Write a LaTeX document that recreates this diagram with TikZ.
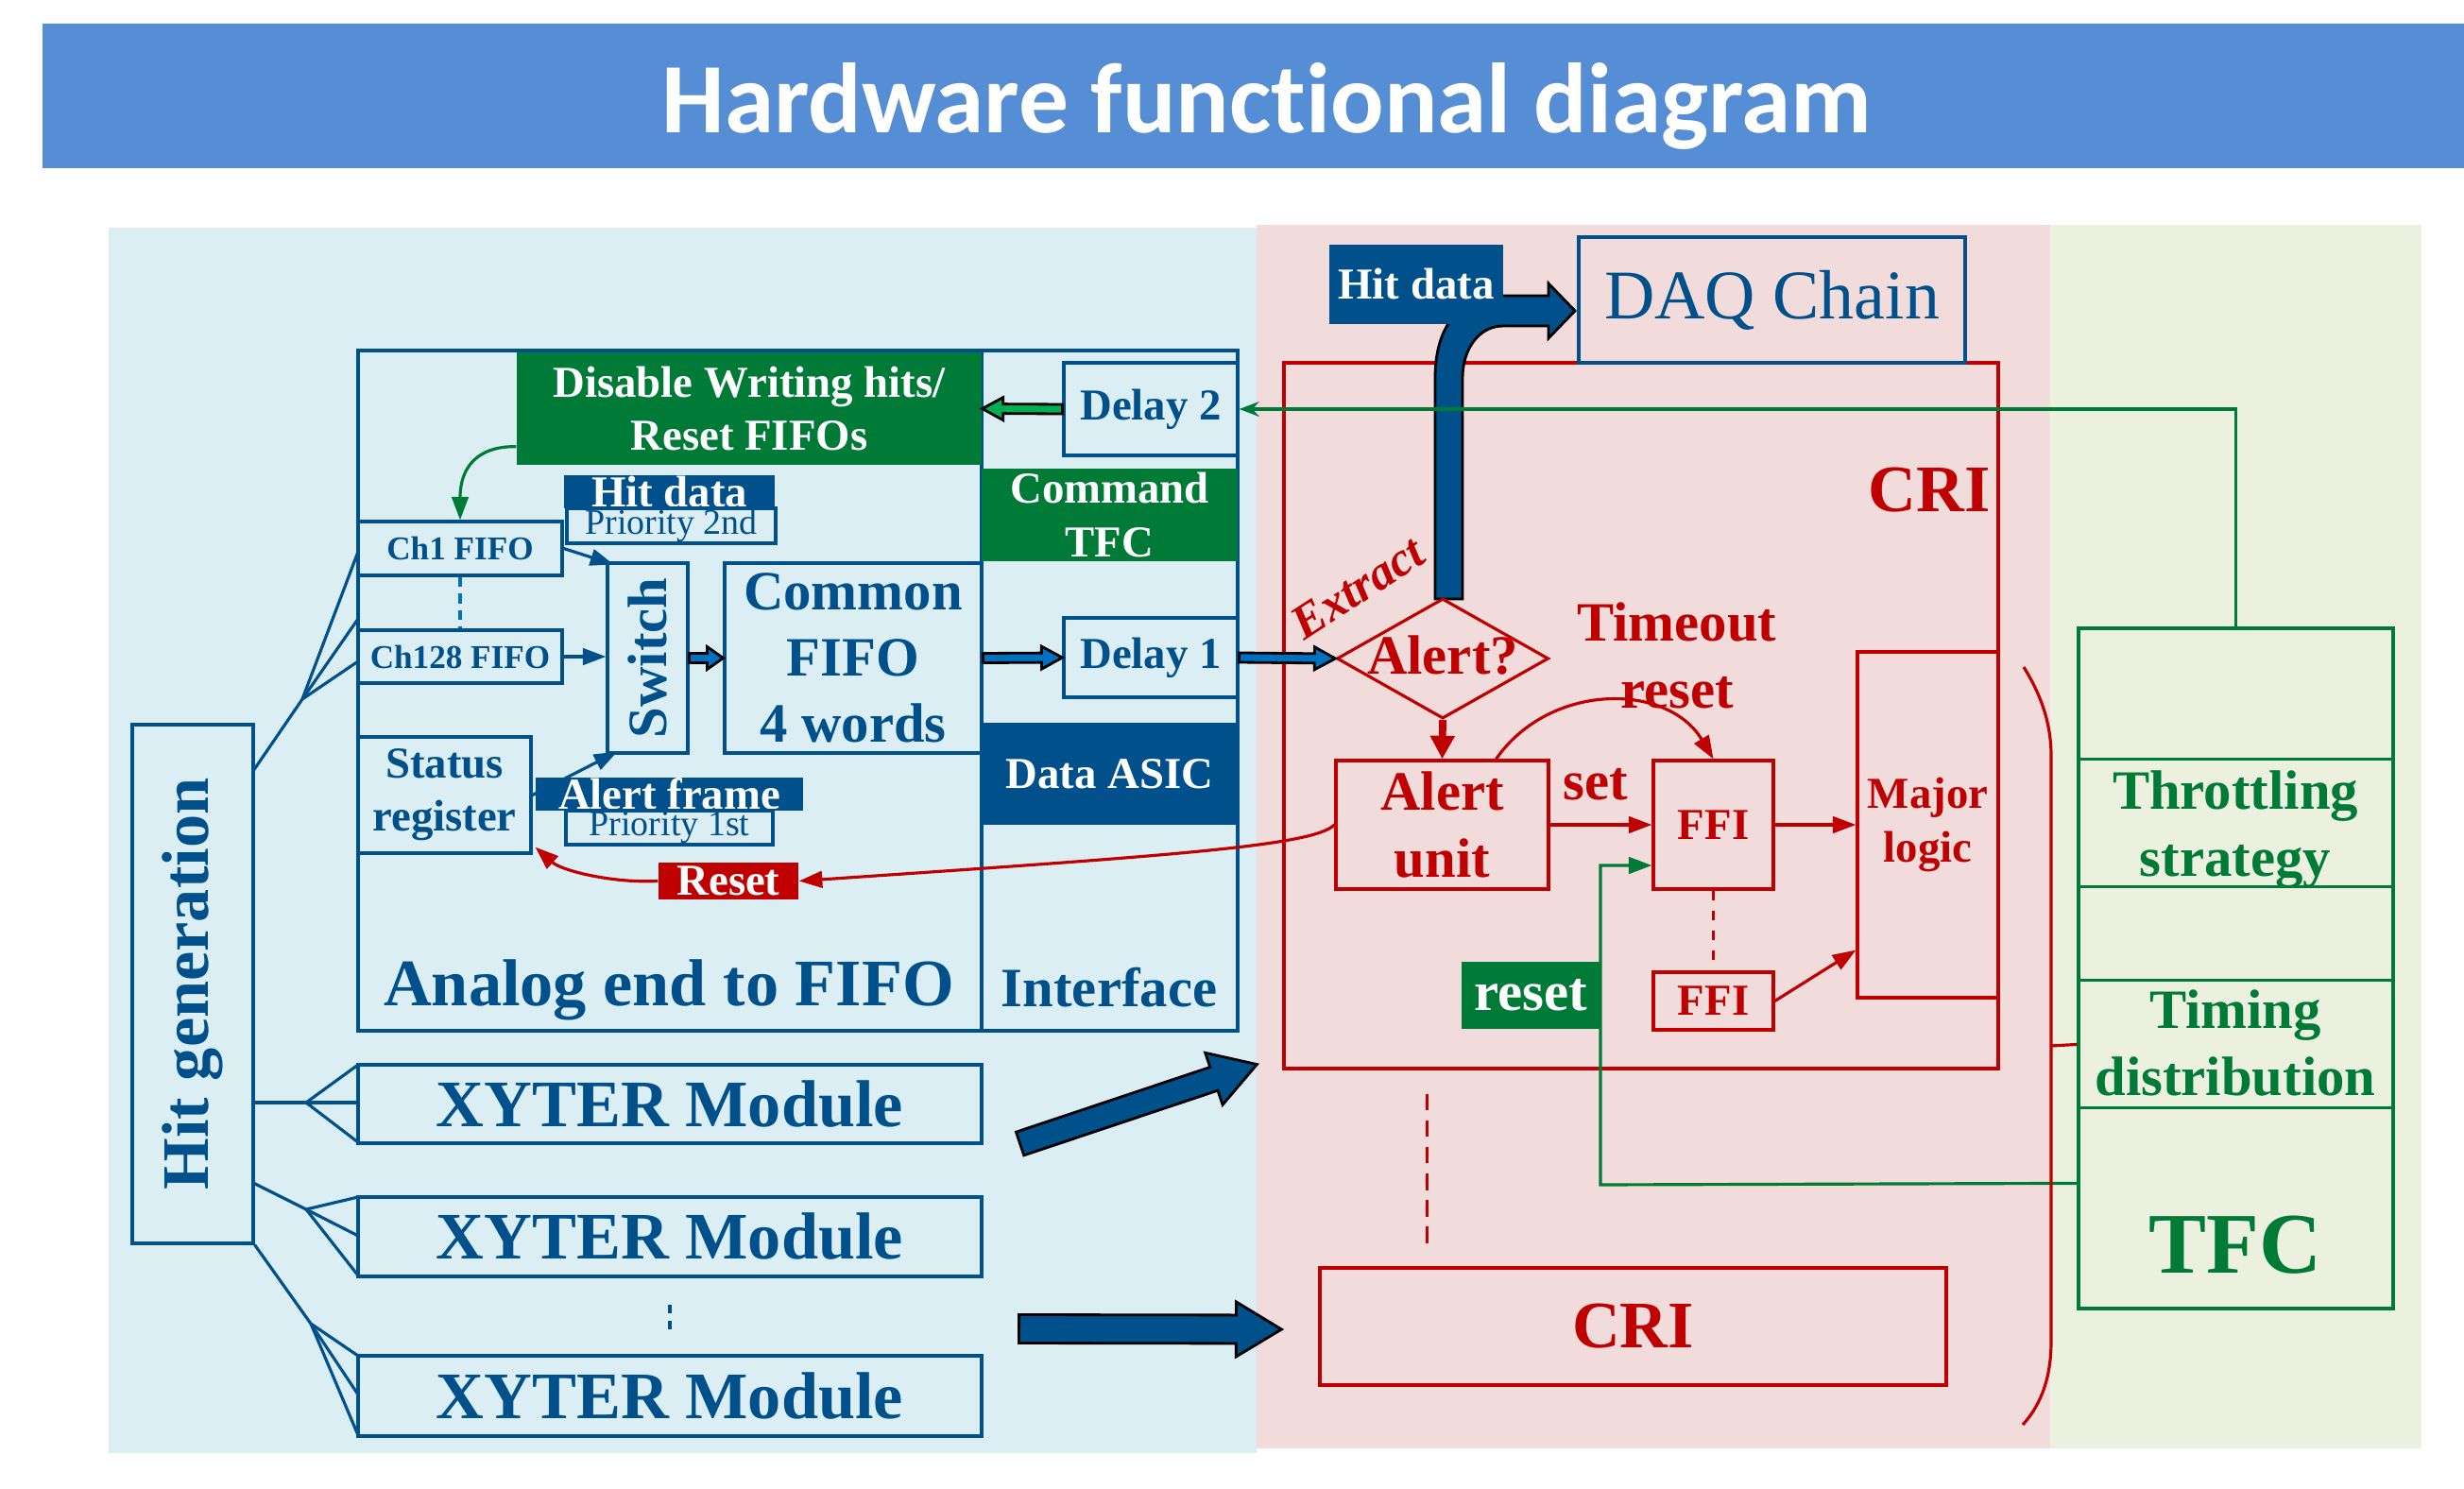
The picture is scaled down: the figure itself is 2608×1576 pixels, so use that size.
\documentclass[tikz,border=0pt]{standalone}
\usepackage{fontspec}
\setmainfont{Liberation Serif}
\newfontfamily\titlefont[Ligatures={NoCommon,NoContextual,NoRare}]{Carlito}
\usetikzlibrary{arrows.meta,calc,fit,shapes.geometric}

\definecolor{dblue}{HTML}{00508C}
\definecolor{mblue}{HTML}{0070C0}
\definecolor{bgblue}{HTML}{DAEEF3}
\definecolor{bgpink}{HTML}{F2DCDB}
\definecolor{bggreen}{HTML}{EBF1DE}
\definecolor{titleblue}{HTML}{558ED5}
\definecolor{dgreen}{HTML}{007A37}
\definecolor{lgreen}{HTML}{00B050}
\definecolor{dred}{HTML}{C00000}

\newcommand\szA{\fontsize{10pt}{12pt}\selectfont\bfseries}
\newcommand\szP{\fontsize{10.8pt}{13pt}\selectfont}
\newcommand\szB{\fontsize{13.3pt}{16pt}\selectfont\bfseries}
\newcommand\szC{\fontsize{16.7pt}{20pt}\selectfont\bfseries}
\newcommand\szD{\fontsize{20pt}{24pt}\selectfont\bfseries}

\newcommand\FatArrow[6]{%
  \coordinate (fa-s) at #2;
  \coordinate (fa-e) at #3;
  \coordinate (fa-n) at ($(fa-e)!#6!(fa-s)$);
  \filldraw[fill=#1, draw=black, line width=0.8pt, line join=miter]
    ($(fa-s)!#4!90:(fa-e)$) -- ($(fa-n)!#4!-90:(fa-s)$) -- ($(fa-n)!#5!-90:(fa-s)$)
    -- (fa-e) -- ($(fa-n)!#5!90:(fa-s)$) -- ($(fa-n)!#4!90:(fa-s)$)
    -- ($(fa-s)!#4!-90:(fa-e)$) -- cycle;
}

\tikzset{
  bbox/.style={inner sep=0pt, draw=dblue, line width=0.9pt},
  rbox/.style={inner sep=0pt, draw=dred, line width=0.9pt},
  gbox/.style={inner sep=0pt, draw=dgreen, line width=0.9pt},
  fillbox/.style={inner sep=0pt},
  lbl/.style={inner sep=0pt, align=center},
  bthin/.style={draw=dblue, line width=0.9pt},
  rthin/.style={draw=dred, line width=0.9pt},
  gthin/.style={draw=dgreen, line width=0.9pt},
  tri/.style={-{Triangle[length=7pt,width=5pt]}},
}

\begin{document}
\begin{tikzpicture}[x=0.01cm, y=-0.01cm]
\useasboundingbox (0,0) rectangle (2608,1576);
\fill[white] (0,0) rectangle (2608,1576);

% title
\fill[titleblue] (45,25) rectangle (2608,178);
\node[anchor=base, inner sep=0, text=white, font=\titlefont\fontsize{30pt}{36pt}\selectfont\bfseries] (title) at (1341,141) {Hardware functional diagram};

% panels
\fill[bgblue] (115,241) rectangle (1330,1538);
\fill[bgpink] (1330,238) rectangle (2170,1533);
\fill[bggreen] (2170,238) rectangle (2563,1533);

% hit generation
\node[bbox, fit={(140,767) (268,1316)}] (hitgen) {};
\node[lbl, text=dblue, font=\szD, rotate=90] (hitgent) at (hitgen.center) {Hit generation};

\coordinate (ap0) at (320,740);
\coordinate (ap1) at (324,1167);
\coordinate (ap2) at (324,1280);
\coordinate (ap3) at (329,1401);
\draw[bthin] (268,816) -- (ap0);
\draw[bthin] (ap0) -- (379,584);
\draw[bthin] (ap0) -- (379,655);
\draw[bthin] (ap0) -- (379,700);
\draw[bthin] (268,1167) -- (ap1);
\draw[bthin] (ap1) -- (379,1127);
\draw[bthin] (ap1) -- (379,1167);
\draw[bthin] (ap1) -- (379,1209);
\draw[bthin] (268,1252) -- (ap2);
\draw[bthin] (ap2) -- (379,1267);
\draw[bthin] (ap2) -- (379,1308);
\draw[bthin] (ap2) -- (379,1350);
\draw[bthin] (hitgen.south east) -- (ap3);
\draw[bthin] (ap3) -- (379,1435);
\draw[bthin] (ap3) -- (379,1476);
\draw[bthin] (ap3) -- (379,1519);

% main block
\node[bbox, fit={(379,371) (1039,1091)}] (analog) {};
\node[bbox, fit={(1039,371) (1310,1091)}] (iface) {};
\node[lbl, text=dblue, font=\szD, anchor=base] (analogt) at (708,1064) {Analog end to FIFO};
\node[lbl, text=dblue, font=\szC, anchor=base] (ifacet) at (1174,1065) {Interface};

\node[fillbox, fill=dgreen, fit={(547,373) (1039,492)}] (disable) {};
\node[lbl, text=white, font=\szB] (disablet) at (disable.center) {Disable Writing hits/\\Reset FIFOs};
\node[bbox, fill=bgblue, fit={(1126,384) (1310,482)}] (delay2) {};
\node[lbl, text=dblue, font=\szB] (delay2t) at (delay2.center) {Delay 2};
\node[fillbox, fill=dgreen, fit={(1039,496) (1310,594)}] (cmd) {};
\node[lbl, text=white, font=\szB] (cmdt) at (cmd.center) {Command\\TFC};
\node[bbox, fill=bgblue, fit={(1126,654) (1310,738)}] (delay1) {};
\node[lbl, text=dblue, font=\szB] (delay1t) at (delay1.center) {Delay 1};
\node[fillbox, fill=dblue, fit={(1039,765) (1310,873)}] (asic) {};
\node[lbl, text=white, font=\szB] (asict) at (asic.center) {Data ASIC};

\node[bbox, fit={(379,552) (595,609)}] (ch1) {};
\node[lbl, text=dblue, font=\szA] (ch1t) at (ch1.center) {Ch1 FIFO};
\node[bbox, fit={(379,667) (595,723)}] (ch128) {};
\node[lbl, text=dblue, font=\szA] (ch128t) at (ch128.center) {Ch128 FIFO};
\node[bbox, fit={(643,596) (728,797)}] (switch) {};
\node[lbl, text=dblue, font=\szC, rotate=90] (switcht) at (switch.center) {Switch};
\node[bbox, fit={(767,596) (1039,797)}] (common) {};
\node[lbl, text=dblue, font=\szC] (commont) at (common.center) {Common\\FIFO\\4 words};
\node[bbox, fit={(379,780) (562,903)}] (status) {};
\node[lbl, text=dblue, font=\szB] (statust) at (status.center) {Status\\register};

\draw[mblue, line width=1.2pt, dash pattern=on 3pt off 2pt] (ch1.south) -- (ch128.north);
\draw[bthin, tri] (ch1.east) -- ($(switch.north west)+(8,3)$);
\draw[bthin, tri] (ch128.east) -- (ch128.east -| switch.west);
\draw[bthin, tri] (status.east) -- ($(switch.south west)+(12,-3)$);

\node[fillbox, fill=dblue, fit={(597,503) (820,538)}] (hitd) {};
\node[lbl, text=white, font=\szB] (hitdt) at (hitd.center) {Hit data};
\node[bbox, fill=bgblue, fit={(600,538) (821,575)}] (prio2) {};
\node[lbl, text=dblue, font=\szP] (prio2t) at (prio2.center) {Priority 2nd};
\node[fillbox, fill=dblue, fit={(567,823) (850,858)}] (alertf) {};
\node[lbl, text=white, font=\szB] (alertft) at (alertf.center) {Alert frame};
\node[bbox, fill=bgblue, fit={(599,858) (818,894)}] (prio1) {};
\node[lbl, text=dblue, font=\szP] (prio1t) at (prio1.center) {Priority 1st};
\node[fillbox, fill=dred, fit={(697,913) (845,952)}] (resetl) {};
\node[lbl, text=white, font=\szB] (resetlt) at (resetl.center) {Reset};

\draw[gthin, tri] ($(disable.south west)+(0,-20)$) .. controls (505,472) and (487,495) .. (ch1.north);

% modules
\node[bbox, fit={(379,1127) (1039,1210)}] (m1) {};
\node[lbl, text=dblue, font=\szD] (m1t) at (m1.center) {XYTER Module};
\node[bbox, fit={(379,1267) (1039,1351)}] (m2) {};
\node[lbl, text=dblue, font=\szD] (m2t) at (m2.center) {XYTER Module};
\node[bbox, fit={(379,1435) (1039,1520)}] (m3) {};
\node[lbl, text=dblue, font=\szD] (m3t) at (m3.center) {XYTER Module};
\draw[dblue, line width=1.2pt, dash pattern=on 2.5pt off 2.5pt] ($(m2.south)!0.35!(m3.north)$) -- ($(m2.south)!0.68!(m3.north)$);

% CRI
\node[rbox, fit={(1359,384) (2115,1131)}] (cri) {};
\node[lbl, text=dred, font=\szD] (crit) at (2042,519) {CRI};

\filldraw[fill=dblue, draw=black, line width=0.8pt, line join=miter]
  (1519,634) -- (1519,400) .. controls (1519,345) and (1545,313) .. (1591,313)
  -- (1639,313) -- (1639,300) -- (1667,329) -- (1639,358) -- (1639,345) -- (1591,345)
  .. controls (1565,345) and (1548,370) .. (1548,400) -- (1548,634) -- cycle;

\node[bbox, fill=bgpink, fit={(1671,251) (2080,384)}] (daq) {};
\node[lbl, text=dblue, font=\fontsize{21pt}{25pt}\selectfont] (daqt) at (daq.center) {DAQ Chain};
\node[fillbox, fill=dblue, fit={(1407,259) (1591,343)}] (hitd2) {};
\node[lbl, text=white, font=\szB] (hitd2t) at (hitd2.center) {Hit data};

\node[diamond, draw=dred, line width=0.9pt, minimum width=2.24cm, minimum height=1.27cm, inner sep=0pt] (alert) at (1527,697) {};
\node[lbl, text=dred, font=\szC] (alertt) at (1527,694) {Alert?};
\node[lbl, text=dred, font=\fontsize{14.5pt}{17pt}\selectfont\bfseries\itshape, rotate=33] (extract) at (1437,622) {Extract};

\node[rbox, fit={(1414,805) (1639,941)}] (aunit) {};
\node[lbl, text=dred, font=\szC] (aunitt) at (aunit.center) {Alert\\unit};
\node[rbox, fit={(1750,805) (1877,941)}] (ffi1) {};
\node[lbl, text=dred, font=\szB] (ffi1t) at (ffi1.center) {FFI};
\node[rbox, fit={(1750,1029) (1877,1090)}] (ffi2) {};
\node[lbl, text=dred, font=\szB] (ffi2t) at (ffi2.center) {FFI};
\node[rbox, fit={(1966,690) (2115,1056)}] (major) {};
\node[lbl, text=dred, font=\szB] (majort) at (major.center) {Major\\logic};
\node[fillbox, fill=dgreen, fit={(1547,1018) (1694,1089)}] (resetg) {};
\node[lbl, text=white, font=\szC] (resetgt) at (resetg.center) {reset};
\node[lbl, text=dred, font=\szC] (timeout) at (1775,694) {Timeout\\reset};
\node[lbl, text=dred, font=\szC] (setl) at (1689,830) {set};

\draw[dred, line width=2.2pt, -{Triangle[length=7pt,width=7pt]}] (alert.south) -- (aunit.north);
\draw[rthin, tri] (aunit.east) -- (ffi1.west);
\draw[rthin, tri] ($(aunit.north)+(57,0)$) .. controls (1640,722) and (1765,722) .. (ffi1.north);
\draw[rthin, tri] (ffi1.east) -- (ffi1.east -| major.west);
\draw[rthin, tri] (ffi2.east) -- ($(major.south west)+(0,-52)$);
\draw[rthin, dashed] (ffi1.south) -- (ffi2.north);

\draw[rthin, tri] (aunit.west) .. controls (1390,895) and (1250,905) .. (resetl.east);
\draw[rthin, tri] (resetl.west) .. controls (650,935) and (595,922) .. ($(status.south east)+(3,-8)$);

% second CRI
\node[rbox, fit={(1397,1342) (2060,1466)}] (cri2) {};
\node[lbl, text=dred, font=\szD] (cri2t) at (cri2.center) {CRI};
\draw[rthin, dash pattern=on 5pt off 3pt] ($(cri.south west)+(153,25)$) -- ($(cri2.north west)+(115,-20)$);

% TFC
\node[gbox, fit={(2200,665) (2533,1385)}] (tfc) {};
\draw[gthin] ($(tfc.north west)+(0,140)$) -- ($(tfc.north east)+(0,140)$);
\draw[gthin] ($(tfc.north west)+(0,275)$) -- ($(tfc.north east)+(0,275)$);
\draw[gthin] ($(tfc.north west)+(0,374)$) -- ($(tfc.north east)+(0,374)$);
\draw[gthin] ($(tfc.north west)+(0,509)$) -- ($(tfc.north east)+(0,509)$);
\node[lbl, text=dgreen, font=\szC] (throt) at (2366,878) {Throttling\\strategy};
\node[lbl, text=dgreen, font=\szC] (timing) at (2366,1104) {Timing\\distribution};
\node[lbl, text=dgreen, font=\fontsize{26pt}{30pt}\selectfont\bfseries] (tfct) at (2366,1318) {TFC};

\draw[gthin, -{Stealth[length=6pt,width=4.5pt]}] (tfc.north) |- (delay2.east);
\draw[gthin, tri] ($(tfc.north west)+(0,589)$) -- (1694,1254) -- (1694,916) -- ($(ffi1.west)+(0,43)$);

% bracket
\draw[rthin] (2142,706) .. controls (2160,735) and (2171,765) .. (2171,800) -- (2171,1420) .. controls (2171,1455) and (2162,1485) .. (2141,1508);
\draw[rthin] (2171,1107) -- ($(tfc.north west)+(0,442)$);

% fat arrows
\FatArrow{mblue}{(switch.east)}{(common.west)}{0.05cm}{0.12cm}{0.17cm}
\FatArrow{mblue}{(common.east)}{(delay1.west)}{0.05cm}{0.12cm}{0.22cm}
\FatArrow{mblue}{(delay1.east)}{(alert.west)}{0.05cm}{0.12cm}{0.22cm}
\FatArrow{lgreen}{(delay2.west)}{(disable.east)}{0.05cm}{0.12cm}{0.22cm}
\FatArrow{dblue}{($(m1.east)+(39,42)$)}{($(cri.south west)+(-27,-6)$)}{0.13cm}{0.29cm}{0.48cm}
\FatArrow{dblue}{($(m3.east)+(38,-71)$)}{($(cri2.west)+(-39,3)$)}{0.15cm}{0.29cm}{0.48cm}
\end{tikzpicture}
\end{document}
